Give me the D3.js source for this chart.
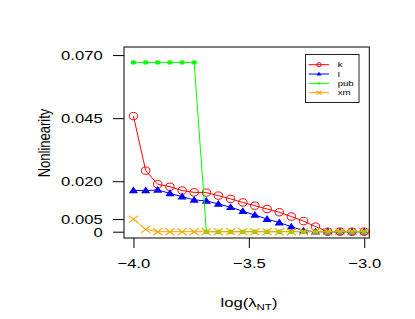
<!DOCTYPE html>
<html><head><meta charset="utf-8">
<script src="https://cdn.jsdelivr.net/npm/d3@7"></script>
<style>body{margin:0;background:#fff}svg{display:block}text{font-family:"Liberation Sans",Arial,sans-serif}</style>
</head><body>
<script>
const xVals = [-4.000,-3.947,-3.895,-3.842,-3.789,-3.737,-3.684,-3.632,-3.579,-3.526,-3.474,-3.421,-3.368,-3.316,-3.263,-3.211,-3.158,-3.105,-3.053,-3.000];
const kVals = [0.0458,0.0242,0.0188,0.0178,0.0163,0.0156,0.0155,0.0143,0.0130,0.0116,0.0103,0.0090,0.0077,0.0060,0.0042,0.0020,0,0,0,0];
const lVals = [0.0163,0.0163,0.0165,0.0152,0.0139,0.0126,0.0122,0.0110,0.0097,0.0081,0.0066,0.0050,0.0036,0.0020,0.0004,0,0,0,0,0];
const pubVals = [0.0671,0.0671,0.0671,0.0671,0.0671,0.0671,0,0,0,0,0,0,0,0,0,0,0,0,0,0];
const xmVals = [0.0050,0.0009,0,0,0,0,0,0,0,0,0,0,0,0,0,0,0,0,0,0];
const seriesNames = ["k","l","pub","xm"];
const seriesColors = ["#ff0000","#0000ff","#00ff00","#ffa500"];
const seriesShapes = ["circle","triangle","dot","cross"];
const xTicks = [-4.0,-3.5,-3.0];
const xTickLabels = ["\u22124.0","\u22123.5","\u22123.0"];
const yTicks = [0,0.005,0.020,0.045,0.070];
const yTickLabels = ["0","0.005","0.020","0.045","0.070"];

const W=415,H=319, SX=1.28;
const svg=d3.select("body").append("svg").attr("width",W).attr("height",H);
const x=d3.scaleLinear().domain([-4.041,-2.978]).range([124,369.3]);
const y=d3.scaleLinear().domain([-0.0025,0.0732]).range([238,47]);

// axes
const gx=svg.append("g").attr("transform","translate(0,238)")
  .call(d3.axisBottom(x).tickValues(xTicks).tickSize(10).tickFormat((d,i)=>xTickLabels[i]));
gx.select(".domain").remove();
gx.selectAll("line").attr("stroke","#000");
gx.selectAll("text").attr("y",null).attr("dy",null).attr("fill","#000")
  .style("font-size","13px").attr("text-anchor","middle")
  .attr("transform","translate(0,30) scale("+SX+",1)");

const gy=svg.append("g").attr("transform","translate(124,0)")
  .call(d3.axisLeft(y).tickValues(yTicks).tickSize(11).tickFormat((d,i)=>yTickLabels[i]));
gy.select(".domain").remove();
gy.selectAll("line").attr("stroke","#000");
gy.selectAll("text").attr("x",null).attr("dy","0.35em").attr("fill","#000")
  .style("font-size","13px").attr("text-anchor","end")
  .attr("transform","translate(-21.3,0) scale("+SX+",1)");

// box
svg.append("rect").attr("x",x.range()[0]).attr("y",y.range()[1])
  .attr("width",x.range()[1]-x.range()[0]).attr("height",y.range()[0]-y.range()[1])
  .attr("fill","none").attr("stroke","#000").attr("stroke-width",1);

function marker(g,shape,color,cx,cy,s){
  if(shape==="circle") g.append("ellipse").attr("cx",cx).attr("cy",cy).attr("rx",4.2*s).attr("ry",3.7*s).attr("fill","none").attr("stroke",color).attr("stroke-width",1);
  else if(shape==="triangle") g.append("path").attr("d",`M${cx},${cy-4*s}L${cx+4.6*s},${cy+2.8*s}L${cx-4.6*s},${cy+2.8*s}Z`).attr("fill",color);
  else if(shape==="dot") g.append("ellipse").attr("cx",cx).attr("cy",cy).attr("rx",2.7*s).attr("ry",2.2*s).attr("fill",color);
  else g.append("path").attr("d",`M${cx-4.5*s},${cy-3.5*s}L${cx+4.5*s},${cy+3.5*s}M${cx-4.5*s},${cy+3.5*s}L${cx+4.5*s},${cy-3.5*s}`).attr("stroke",color).attr("stroke-width",1.1).attr("fill","none");
}

const allVals=[kVals,lVals,pubVals,xmVals];
const line=d3.line().x((d,i)=>x(xVals[i])).y(d=>y(d));
allVals.forEach((vals,si)=>{
  const g=svg.append("g");
  g.append("path").datum(vals).attr("d",line).attr("fill","none").attr("stroke",seriesColors[si]).attr("stroke-width",1);
  vals.forEach((v,i)=>marker(g,seriesShapes[si],seriesColors[si],x(xVals[i]),y(v),1));
});

// legend
const lg=svg.append("g");
lg.append("rect").attr("x",305.5).attr("y",54.5).attr("width",53.5).attr("height",48)
  .attr("fill","#fff").attr("stroke","#222").attr("stroke-width",1);
seriesNames.forEach((n,i)=>{
  const ry=64.7+i*9.33;
  lg.append("line").attr("x1",308.7).attr("x2",329).attr("y1",ry).attr("y2",ry).attr("stroke",seriesColors[i]).attr("stroke-width",1);
  marker(lg,seriesShapes[i],seriesColors[i],319,ry,0.55);
  lg.append("text").attr("transform",`translate(337.7,${ry}) scale(${SX},1)`).attr("dy","0.35em")
    .style("font-size","7.5px").text(n);
});

// titles
const xt=svg.append("text").attr("transform",`translate(249,306.5) scale(${SX},1)`).attr("text-anchor","middle").style("font-size","13px");
xt.append("tspan").text("log(\u03bb");
xt.append("tspan").attr("dy","3").style("font-size","9px").text("NT");
xt.append("tspan").attr("dy","-3").text(")");
svg.append("text").attr("transform",`translate(50,143) scale(${SX},1) rotate(-90)`).attr("text-anchor","middle").style("font-size","13px").text("Nonlinearity");
</script>
</body></html>
